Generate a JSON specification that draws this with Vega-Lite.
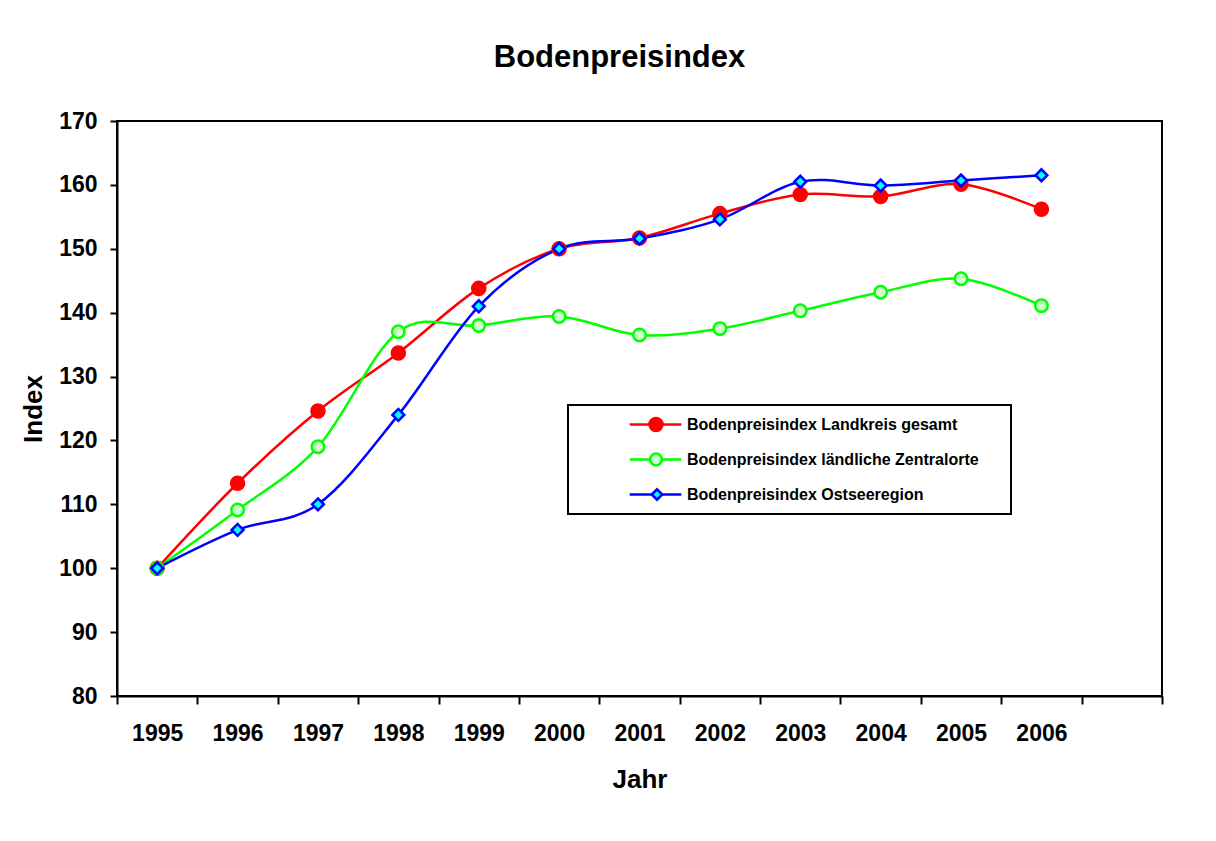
{
  "$schema": "https://vega.github.io/schema/vega-lite/v6.json",
  "width": 1045,
  "height": 575,
  "autosize": {"type": "none"},
  "padding": {"left": 117, "top": 121, "right": 54, "bottom": 145},
  "background": "white",
  "title": {
    "text": "Bodenpreisindex",
    "font": "Liberation Sans",
    "fontSize": 31,
    "fontWeight": "bold",
    "color": "black",
    "anchor": "middle",
    "frame": "group",
    "dx": -20,
    "baseline": "alphabetic",
    "offset": 12
  },
  "config": {
    "view": {"stroke": "black", "strokeWidth": 2},
    "legend": {"strokeWidth": 2},
    "axis": {
      "domainColor": "black",
      "domainWidth": 2,
      "tickColor": "black",
      "tickWidth": 2,
      "grid": false,
      "labelFont": "Liberation Sans",
      "labelFontWeight": "bold",
      "labelColor": "black",
      "labelFontSize": 23,
      "titleFont": "Liberation Sans",
      "titleFontWeight": "bold",
      "titleColor": "black",
      "titleFontSize": 26
    }
  },
  "data": {
    "values": [
      {"year": "1995", "series": "Bodenpreisindex Landkreis gesamt", "value": 100},
      {"year": "1996", "series": "Bodenpreisindex Landkreis gesamt", "value": 113.3},
      {"year": "1997", "series": "Bodenpreisindex Landkreis gesamt", "value": 124.6},
      {"year": "1998", "series": "Bodenpreisindex Landkreis gesamt", "value": 133.7},
      {"year": "1999", "series": "Bodenpreisindex Landkreis gesamt", "value": 143.8},
      {"year": "2000", "series": "Bodenpreisindex Landkreis gesamt", "value": 150.0},
      {"year": "2001", "series": "Bodenpreisindex Landkreis gesamt", "value": 151.7},
      {"year": "2002", "series": "Bodenpreisindex Landkreis gesamt", "value": 155.5},
      {"year": "2003", "series": "Bodenpreisindex Landkreis gesamt", "value": 158.5},
      {"year": "2004", "series": "Bodenpreisindex Landkreis gesamt", "value": 158.2},
      {"year": "2005", "series": "Bodenpreisindex Landkreis gesamt", "value": 160.1},
      {"year": "2006", "series": "Bodenpreisindex Landkreis gesamt", "value": 156.2},
      {"year": "1995", "series": "Bodenpreisindex ländliche Zentralorte", "value": 100},
      {"year": "1996", "series": "Bodenpreisindex ländliche Zentralorte", "value": 109.1},
      {"year": "1997", "series": "Bodenpreisindex ländliche Zentralorte", "value": 119.0},
      {"year": "1998", "series": "Bodenpreisindex ländliche Zentralorte", "value": 137.0},
      {"year": "1999", "series": "Bodenpreisindex ländliche Zentralorte", "value": 138.0},
      {"year": "2000", "series": "Bodenpreisindex ländliche Zentralorte", "value": 139.4},
      {"year": "2001", "series": "Bodenpreisindex ländliche Zentralorte", "value": 136.5},
      {"year": "2002", "series": "Bodenpreisindex ländliche Zentralorte", "value": 137.5},
      {"year": "2003", "series": "Bodenpreisindex ländliche Zentralorte", "value": 140.3},
      {"year": "2004", "series": "Bodenpreisindex ländliche Zentralorte", "value": 143.2},
      {"year": "2005", "series": "Bodenpreisindex ländliche Zentralorte", "value": 145.3},
      {"year": "2006", "series": "Bodenpreisindex ländliche Zentralorte", "value": 141.1},
      {"year": "1995", "series": "Bodenpreisindex Ostseeregion", "value": 100},
      {"year": "1996", "series": "Bodenpreisindex Ostseeregion", "value": 106.0},
      {"year": "1997", "series": "Bodenpreisindex Ostseeregion", "value": 110.0},
      {"year": "1998", "series": "Bodenpreisindex Ostseeregion", "value": 124.0},
      {"year": "1999", "series": "Bodenpreisindex Ostseeregion", "value": 141.0},
      {"year": "2000", "series": "Bodenpreisindex Ostseeregion", "value": 150.0},
      {"year": "2001", "series": "Bodenpreisindex Ostseeregion", "value": 151.6},
      {"year": "2002", "series": "Bodenpreisindex Ostseeregion", "value": 154.6},
      {"year": "2003", "series": "Bodenpreisindex Ostseeregion", "value": 160.5},
      {"year": "2004", "series": "Bodenpreisindex Ostseeregion", "value": 159.9},
      {"year": "2005", "series": "Bodenpreisindex Ostseeregion", "value": 160.7},
      {"year": "2006", "series": "Bodenpreisindex Ostseeregion", "value": 161.5}
    ]
  },
  "encoding": {
    "x": {
      "field": "year",
      "type": "ordinal",
      "scale": {
        "type": "band",
        "domain": ["1995", "1996", "1997", "1998", "1999", "2000", "2001", "2002", "2003", "2004", "2005", "2006", "2007"],
        "paddingInner": 0,
        "paddingOuter": 0
      },
      "axis": {
        "title": "Jahr",
        "tickBand": "extent",
        "tickSize": 8,
        "labelAngle": 0,
        "labelBaseline": "alphabetic",
        "labelPadding": 36,
        "labelExpr": "datum.value == '2007' ? '' : datum.label",
        "titleBaseline": "alphabetic",
        "titleY": 91
      }
    },
    "y": {
      "field": "value",
      "type": "quantitative",
      "scale": {"domain": [80, 170], "nice": false, "zero": false},
      "axis": {
        "title": "Index",
        "values": [80, 90, 100, 110, 120, 130, 140, 150, 160, 170],
        "tickSize": 7,
        "labelPadding": 13,
        "titleX": -76,
        "titleBaseline": "alphabetic"
      }
    }
  },
  "layer": [
    {
      "mark": {"type": "line", "interpolate": "cardinal", "strokeWidth": 2.5},
      "encoding": {
        "color": {
          "field": "series",
          "type": "nominal",
          "scale": {
            "domain": ["Bodenpreisindex Landkreis gesamt", "Bodenpreisindex ländliche Zentralorte", "Bodenpreisindex Ostseeregion"],
            "range": ["#ff0000", "#00ff00", "#0000ff"]
          },
          "legend": {
            "orient": "none",
            "legendX": 451,
            "legendY": 284,
            "title": null,
            "padding": 11,
            "strokeColor": null,
            "symbolType": "stroke",
            "symbolSize": 2660,
            "symbolStrokeWidth": 2.5,
            "symbolOffset": 49,
            "labelFont": "Liberation Sans",
            "labelFontSize": 16,
            "labelFontWeight": "bold",
            "labelColor": "black",
            "labelOffset": 4,
            "clipHeight": 17,
            "rowPadding": 18,
            "labelLimit": 500
          }
        }
      }
    },
    {
      "mark": {"type": "point", "filled": true, "strokeWidth": 2.5, "opacity": 1},
      "encoding": {
        "stroke": {
          "field": "series",
          "type": "nominal",
          "sort": ["Bodenpreisindex Landkreis gesamt", "Bodenpreisindex ländliche Zentralorte", "Bodenpreisindex Ostseeregion"],
          "scale": {"range": ["#ff0000", "#00ff00", "#0000ff"]},
          "legend": {
            "orient": "none",
            "legendX": 451,
            "legendY": 284,
            "title": null,
            "padding": 11,
            "strokeColor": null,
            "values": ["Bodenpreisindex Landkreis gesamt"],
            "symbolType": "circle",
            "symbolSize": 170,
            "symbolFillColor": "#ff0000",
            "symbolOffset": 69,
            "symbolStrokeWidth": 2.5,
            "labelFontSize": 16,
            "labelExpr": "''",
            "clipHeight": 17,
            "rowPadding": 18
          }
        },
        "fill": {
          "field": "series",
          "type": "nominal",
          "sort": ["Bodenpreisindex Landkreis gesamt", "Bodenpreisindex ländliche Zentralorte", "Bodenpreisindex Ostseeregion"],
          "scale": {"range": ["#ff0000", "#ccffcc", "#00ffff"]},
          "legend": {
            "orient": "none",
            "legendX": 451,
            "legendY": 319,
            "title": null,
            "padding": 11,
            "strokeColor": null,
            "values": ["Bodenpreisindex ländliche Zentralorte"],
            "symbolType": "circle",
            "symbolSize": 140,
            "symbolStrokeColor": "#00ff00",
            "symbolOffset": 69,
            "symbolStrokeWidth": 2.5,
            "labelFontSize": 16,
            "labelExpr": "''",
            "clipHeight": 17,
            "rowPadding": 18
          }
        },
        "shape": {
          "field": "series",
          "type": "nominal",
          "sort": ["Bodenpreisindex Landkreis gesamt", "Bodenpreisindex ländliche Zentralorte", "Bodenpreisindex Ostseeregion"],
          "scale": {"range": ["circle", "circle", "diamond"]},
          "legend": {
            "orient": "none",
            "legendX": 451,
            "legendY": 354,
            "title": null,
            "padding": 11,
            "strokeColor": null,
            "values": ["Bodenpreisindex Ostseeregion"],
            "symbolSize": 110,
            "symbolFillColor": "#00ffff",
            "symbolStrokeColor": "#0000ff",
            "symbolOffset": 70,
            "symbolStrokeWidth": 2.5,
            "labelFontSize": 16,
            "labelExpr": "''",
            "clipHeight": 17,
            "rowPadding": 18
          }
        },
        "size": {
          "field": "series",
          "type": "nominal",
          "sort": ["Bodenpreisindex Landkreis gesamt", "Bodenpreisindex ländliche Zentralorte", "Bodenpreisindex Ostseeregion"],
          "scale": {"range": [170, 140, 110]},
          "legend": {
            "orient": "none",
            "legendX": 451,
            "legendY": 284,
            "title": null,
            "padding": 11,
            "strokeColor": "black",
            "symbolOpacity": 0,
            "symbolOffset": 68,
            "symbolStrokeWidth": 2.5,
            "labelFontSize": 16,
            "labelExpr": "''",
            "labelOffset": 337,
            "clipHeight": 17,
            "rowPadding": 18
          }
        }
      }
    }
  ]
}
